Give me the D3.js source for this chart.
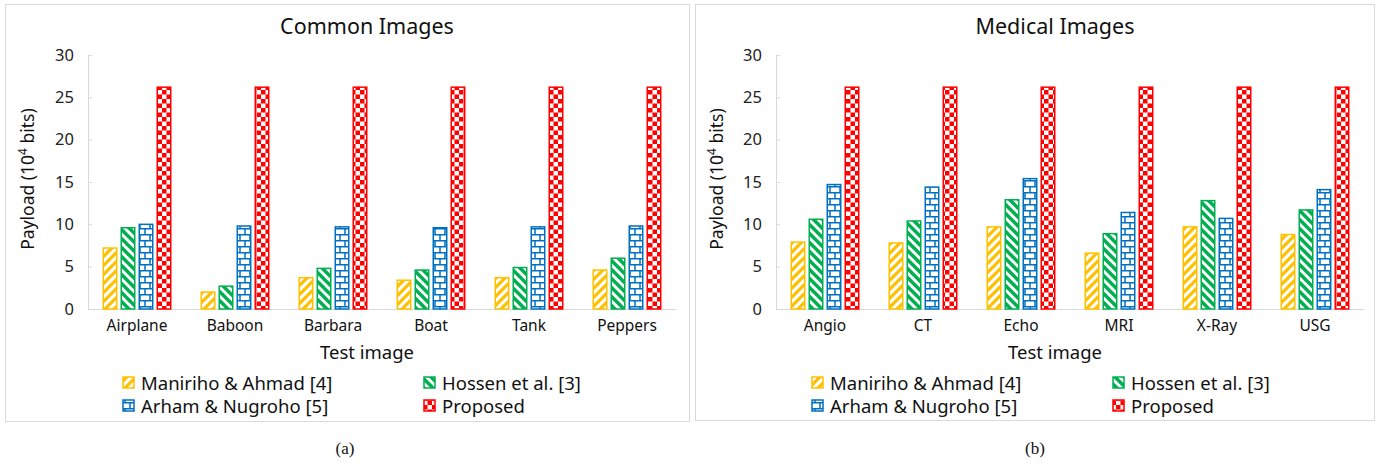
<!DOCTYPE html>
<html>
<head>
<meta charset="utf-8">
<script src="https://cdn.jsdelivr.net/npm/d3@7"></script>
<style>
  body { margin: 0; background: #fff; }
  text { font-family: "Noto Sans", sans-serif; }
</style>
</head>
<body>
<script>
// data (values in 10^4 bits)
const seriesNames = ['Maniriho & Ahmad [4]', 'Hossen et al. [3]', 'Arham & Nugroho [5]', 'Proposed'];
const yTicks = [0, 5, 10, 15, 20, 25, 30];

const commonCats = ['Airplane', 'Baboon', 'Barbara', 'Boat', 'Tank', 'Peppers'];
const commonManiriho = [7.2, 2.0, 3.7, 3.4, 3.7, 4.6];
const commonHossen = [9.6, 2.7, 4.8, 4.6, 4.9, 6.0];
const commonArham = [10.0, 9.8, 9.7, 9.6, 9.7, 9.8];
const commonProposed = [26.2, 26.2, 26.2, 26.2, 26.2, 26.2];

const medicalCats = ['Angio', 'CT', 'Echo', 'MRI', 'X-Ray', 'USG'];
const medicalManiriho = [7.9, 7.8, 9.7, 6.6, 9.7, 8.8];
const medicalHossen = [10.6, 10.4, 12.9, 8.9, 12.8, 11.7];
const medicalArham = [14.7, 14.4, 15.4, 11.4, 10.7, 14.1];
const medicalProposed = [26.2, 26.2, 26.2, 26.2, 26.2, 26.2];

const colors = ['#FFC000', '#00B050', '#0070C0', '#FF0000'];
const patIds = ['patUp', 'patDown', 'patBrick', 'patCheck'];

const svg = d3.select('body').append('svg')
  .attr('width', 1378)
  .attr('height', 464);

// fill patterns
const defs = svg.append('defs');

let p = defs.append('pattern').attr('id', 'patUp').attr('patternUnits', 'userSpaceOnUse')
  .attr('width', 9).attr('height', 9);
p.append('rect').attr('width', 9).attr('height', 9).attr('fill', '#fff');
p.append('path').attr('d', 'M-2,11 L11,-2 M-2,2 L2,-2 M7,11 L11,7')
  .attr('stroke', colors[0]).attr('stroke-width', 3.2);

p = defs.append('pattern').attr('id', 'patDown').attr('patternUnits', 'userSpaceOnUse')
  .attr('width', 9).attr('height', 9);
p.append('rect').attr('width', 9).attr('height', 9).attr('fill', '#fff');
p.append('path').attr('d', 'M-2,-2 L11,11 M-2,7 L2,11 M7,-2 L11,2')
  .attr('stroke', colors[1]).attr('stroke-width', 3.4);

p = defs.append('pattern').attr('id', 'patBrick').attr('patternUnits', 'userSpaceOnUse')
  .attr('width', 10).attr('height', 12);
p.append('rect').attr('width', 10).attr('height', 12).attr('fill', '#fff');
p.append('path').attr('d', 'M0,0.75 H10 M0,6.75 H10 M5,0 V6 M0,6 V12 M10,6 V12')
  .attr('stroke', colors[2]).attr('stroke-width', 1.5).attr('fill', 'none');

p = defs.append('pattern').attr('id', 'patCheck').attr('patternUnits', 'userSpaceOnUse')
  .attr('width', 9).attr('height', 9);
p.append('rect').attr('width', 9).attr('height', 9).attr('fill', '#fff');
p.append('rect').attr('width', 4.5).attr('height', 4.5).attr('fill', colors[3]);
p.append('rect').attr('x', 4.5).attr('y', 4.5).attr('width', 4.5).attr('height', 4.5).attr('fill', colors[3]);

function drawPanel(opt) {
  const g = svg.append('g');

  // panel frame
  g.append('rect')
    .attr('x', opt.frame[0]).attr('y', opt.frame[1])
    .attr('width', opt.frame[2]).attr('height', opt.frame[3])
    .attr('fill', '#fff').attr('stroke', '#d9d9d9').attr('stroke-width', 1);

  const xScale = d3.scaleBand().domain(opt.cats)
    .range([opt.x0, opt.x1]).paddingInner(0.296).paddingOuter(0.148);
  const xSub = d3.scaleBand().domain(seriesNames)
    .range([0, xScale.bandwidth()]).paddingInner(0.167);
  const yScale = d3.scaleLinear().domain([0, 30]).range([309, 55]);

  // y axis
  const yAxis = d3.axisLeft(yScale).tickValues(yTicks).tickSize(-4).tickPadding(14);
  const ya = g.append('g').attr('transform', 'translate(' + opt.x0 + ',0)').call(yAxis);
  ya.select('.domain').attr('stroke', '#d9d9d9');
  ya.selectAll('.tick line').attr('stroke', '#d9d9d9');
  ya.selectAll('.tick text').attr('font-size', 16.5).attr('fill', '#222')
    .style('font-family', '"Noto Sans", sans-serif');

  // x axis
  const xAxis = d3.axisBottom(xScale).tickSize(0).tickPadding(11);
  const xa = g.append('g').attr('transform', 'translate(0,309)').call(xAxis);
  xa.select('.domain').attr('stroke', '#d9d9d9');
  xa.selectAll('.tick text').attr('font-size', 15.5).attr('fill', '#111')
    .style('font-family', '"Noto Sans", sans-serif');

  // bars
  const rows = [];
  for (let i = 0; i < opt.cats.length; i++) {
    for (let s = 0; s < seriesNames.length; s++) {
      rows.push({cat: opt.cats[i], s: s, value: opt.series[s][i]});
    }
  }
  g.selectAll('.bar')
    .data(rows)
    .enter()
    .append('rect')
    .classed('bar', true)
    .attr('x', (d) => xScale(d.cat) + xSub(seriesNames[d.s]) + 0.75)
    .attr('y', (d) => yScale(d.value))
    .attr('width', xSub.bandwidth() - 1.5)
    .attr('height', (d) => 309 - yScale(d.value))
    .attr('fill', (d) => 'url(#' + patIds[d.s] + ')')
    .attr('stroke', (d) => colors[d.s])
    .attr('stroke-width', 1.5);

  // titles
  g.append('text').attr('x', opt.titleX).attr('y', 34).attr('text-anchor', 'middle')
    .attr('font-size', 21.5).attr('fill', '#111').text(opt.title);

  const yt = g.append('text')
    .attr('transform', 'translate(' + opt.yTitleX + ',179) rotate(-90)')
    .attr('text-anchor', 'middle').attr('font-size', 17.5).attr('fill', '#111');
  yt.append('tspan').text('Payload (10');
  yt.append('tspan').attr('font-size', 12).attr('dy', -7).text('4');
  yt.append('tspan').attr('dy', 7).text(' bits)');

  g.append('text').attr('x', (opt.x0 + opt.x1) / 2 - 15).attr('y', 359).attr('text-anchor', 'middle')
    .attr('font-size', 18.5).attr('fill', '#111').text('Test image');

  // legend
  const legX = [opt.legX, opt.legX + 301];
  const legY = [383, 406];
  seriesNames.forEach(function (name, s) {
    const lx = legX[s % 2];
    const ly = legY[Math.floor(s / 2)];
    g.append('rect').attr('x', lx).attr('y', ly - 6).attr('width', 11).attr('height', 11)
      .attr('fill', 'url(#' + patIds[s] + ')').attr('stroke', colors[s]).attr('stroke-width', 1.5);
    g.append('text').attr('x', lx + 18).attr('y', ly + 6.5).attr('font-size', 18.5)
      .attr('fill', '#111').text(name);
  });

  // caption
  g.append('text').attr('x', opt.capX).attr('y', 454).attr('text-anchor', 'middle')
    .attr('font-size', 17).attr('fill', '#111')
    .style('font-family', '"Liberation Serif", serif').text(opt.caption);
}

drawPanel({
  frame: [5.5, 4.5, 684, 417],
  cats: commonCats,
  series: [commonManiriho, commonHossen, commonArham, commonProposed],
  x0: 88, x1: 676,
  title: 'Common Images', titleX: 367,
  yTitleX: 34,
  legX: 123,
  capX: 345, caption: '(a)'
});

drawPanel({
  frame: [695.5, 4.5, 679, 416],
  cats: medicalCats,
  series: [medicalManiriho, medicalHossen, medicalArham, medicalProposed],
  x0: 776, x1: 1364,
  title: 'Medical Images', titleX: 1055,
  yTitleX: 723,
  legX: 812,
  capX: 1035, caption: '(b)'
});
</script>
</body>
</html>
